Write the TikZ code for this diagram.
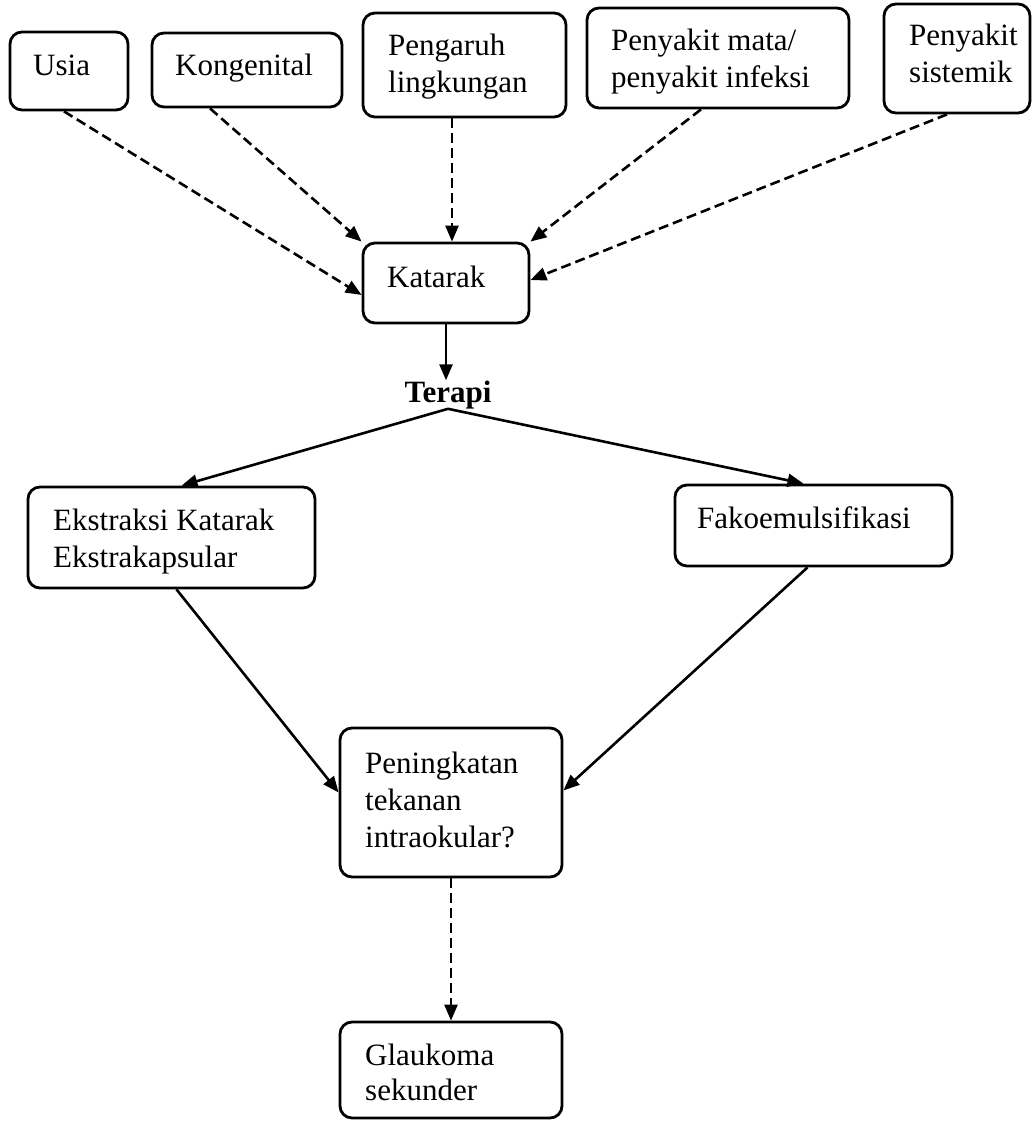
\documentclass[tikz,border=0pt]{standalone}
\usepackage{fontspec}
\setmainfont{Liberation Serif}
\usetikzlibrary{arrows.meta,calc}
\begin{document}
\begin{tikzpicture}[x=1pt,y=-1pt,
  box/.style={draw, line width=2.8pt, rounded corners=12pt, inner sep=0pt},
  txt/.style={anchor=base west, inner sep=0pt, font=\fontsize{31}{37}\selectfont},
  arr/.style={line width=2.6pt, -{Triangle[length=16pt,width=13pt]}},
  darr/.style={arr, dash pattern=on 10pt off 5pt}]
\fill[white] (0,0) rectangle (1034,1122);
\useasboundingbox (0,0) rectangle (1034,1122);

% boxes
\node[box, minimum width=118pt, minimum height=78pt]  (usia) at (69,71) {};
\node[box, minimum width=190pt, minimum height=74pt]  (kong) at (247,70) {};
\node[box, minimum width=203pt, minimum height=104pt] (peng) at (464.5,65) {};
\node[box, minimum width=262pt, minimum height=100pt] (mata) at (718,58) {};
\node[box, minimum width=146pt, minimum height=109pt] (sist) at (957,58.5) {};
\node[box, minimum width=166pt, minimum height=80pt]  (kat)  at (446,283) {};
\node[box, minimum width=287pt, minimum height=101pt] (eks)  at (171.5,537.5) {};
\node[box, minimum width=277pt, minimum height=81pt]  (fako) at (813.5,525.5) {};
\node[box, minimum width=222pt, minimum height=149pt] (pen)  at (451,802.5) {};
\node[box, minimum width=222pt, minimum height=96pt]  (gla)  at (451,1070) {};

% texts
\node[txt] (tusia) at (33,75) {Usia};
\node[txt] (tkong) at (175,75) {Kongenital};
\node[txt] (tpeng1) at (388,55) {Pengaruh};
\node[txt] (tpeng2) at (388,92) {lingkungan};
\node[txt] (tmata1) at (611,50) {Penyakit mata/};
\node[txt] (tmata2) at (611,87) {penyakit infeksi};
\node[txt] (tsist1) at (909,45) {Penyakit};
\node[txt] (tsist2) at (909,82) {sistemik};
\node[txt] (tkat) at (387,287) {Katarak};
\node[anchor=base, inner sep=0pt, font=\fontsize{31}{37}\selectfont\bfseries] (terapi) at (448,402) {Terapi};
\node[txt] (teks1) at (53,530) {Ekstraksi Katarak};
\node[txt] (teks2) at (53,567) {Ekstrakapsular};
\node[txt] (tfako) at (697,528) {Fakoemulsifikasi};
\node[txt] (tpen1) at (365,773) {Peningkatan};
\node[txt] (tpen2) at (365,810) {tekanan};
\node[txt] (tpen3) at (365,847) {intraokular?};
\node[txt] (tgla1) at (365,1065) {Glaukoma};
\node[txt] (tgla2) at (365,1100) {sekunder};

% dashed causes
\draw[darr] ([xshift=-5pt]usia.south) -- ([yshift=-12pt]kat.west);
\draw[darr] ([xshift=-37pt]kong.south) -- (kat.north west);
\draw[darr] ([xshift=-12.5pt]peng.south) -- ([xshift=6pt]kat.north);
\draw[darr] ([xshift=-17pt]mata.south) -- (kat.north east);
\draw[darr] ([xshift=-10pt]sist.south) -- ([yshift=3pt]kat.east);

% therapy
\draw[arr] (kat.south) -- (kat.south |- terapi.north);
\draw[arr] (terapi.south) -- ([xshift=10pt]eks.north);
\draw[arr] (terapi.south) -- ([xshift=-10pt]fako.north);
\draw[arr] ([xshift=5pt]eks.south) -- ([yshift=10pt]pen.west);
\draw[arr] ([xshift=-6pt]fako.south) -- ([yshift=12pt]pen.east);
\draw[darr] (pen.south) -- (gla.north);
\end{tikzpicture}
\end{document}
